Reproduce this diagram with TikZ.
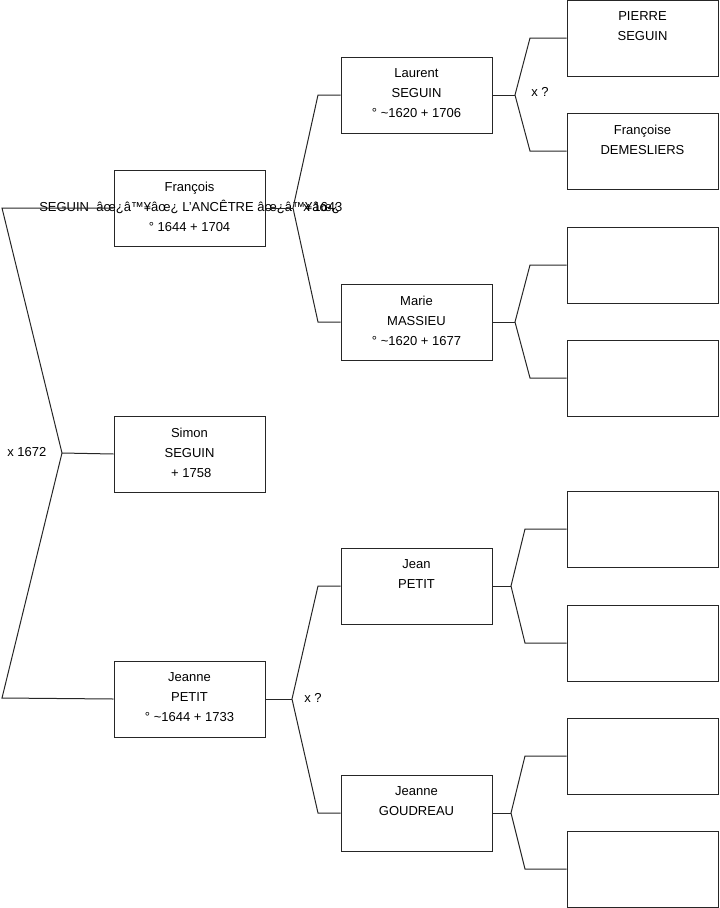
\documentclass[tikz,border=0pt]{standalone}
\usepackage{fontspec}
\setmainfont{Liberation Sans}
\begin{document}
\begin{tikzpicture}[x=0.75pt,y=-0.75pt,
  box/.style={draw=black!85,line width=0.75pt,rectangle,minimum width=113.25pt,minimum height=57pt,inner sep=0pt},
  txt/.style={anchor=north,inner sep=0pt,align=center,font=\fontsize{9.75}{15}\selectfont},
  lbl/.style={anchor=west,inner sep=0pt,font=\fontsize{9.75}{12}\selectfont},
  link/.style={draw=black!85,line width=0.75pt}]
\useasboundingbox (0,0) rectangle (719,908);
% generation 1
\node[box] (fr) at (189.5,208) {};
\node[box] (si) at (189.5,454) {};
\node[box] (je) at (189.5,699) {};
% generation 2
\node[box] (lau) at (416.5,95) {};
\node[box] (mar) at (416.5,322) {};
\node[box] (jea) at (416.5,586) {};
\node[box] (jgo) at (416.5,813) {};
% generation 3
\node[box] (g1) at (642.5,38) {};
\node[box] (g2) at (642.5,151) {};
\node[box] (g3) at (642.5,265) {};
\node[box] (g4) at (642.5,378) {};
\node[box] (g5) at (642.5,529) {};
\node[box] (g6) at (642.5,643) {};
\node[box] (g7) at (642.5,756) {};
\node[box] (g8) at (642.5,869) {};
% texts
\node[txt] (tfr) at ([yshift=-9pt]fr.north) {François\\SEGUIN\ \ âœ¿â™¥âœ¿ L'ANCÊTRE âœ¿â™¥âœ¿\\° 1644 + 1704};
\node[txt] (tsi) at ([yshift=-9pt]si.north) {Simon\\SEGUIN\\\ + 1758};
\node[txt] (tje) at ([yshift=-9pt]je.north) {Jeanne\\PETIT\\° \textasciitilde1644 + 1733};
\node[txt] (tlau) at ([yshift=-9pt]lau.north) {Laurent\\SEGUIN\\° \textasciitilde1620 + 1706};
\node[txt] (tmar) at ([yshift=-9pt]mar.north) {Marie\\MASSIEU\\° \textasciitilde1620 + 1677};
\node[txt] (tjea) at ([yshift=-9pt]jea.north) {Jean\\PETIT};
\node[txt] (tjgo) at ([yshift=-9pt]jgo.north) {Jeanne\\GOUDREAU};
\node[txt] (tg1) at ([yshift=-9pt]g1.north) {PIERRE\\SEGUIN};
\node[txt] (tg2) at ([yshift=-9pt]g2.north) {Françoise\\DEMESLIERS};
% junction coordinates
\coordinate (a1) at (2,208);
\coordinate (a0) at (62,453);
\coordinate (a2) at (2,698);
\coordinate (bf) at (293,208);
\coordinate (bf1) at (318,95);
\coordinate (bf2) at (318,322);
\coordinate (bj) at (292,699);
\coordinate (bj1) at (318,586);
\coordinate (bj2) at (318,813);
\coordinate (cl) at (515,95);
\coordinate (cl1) at (530,38);
\coordinate (cl2) at (530,151);
\coordinate (cm) at (515,322);
\coordinate (cm1) at (530,265);
\coordinate (cm2) at (530,378);
\coordinate (cj) at (511,586);
\coordinate (cj1) at (525,529);
\coordinate (cj2) at (525,643);
\coordinate (cg) at (511,813);
\coordinate (cg1) at (525,756);
\coordinate (cg2) at (525,869);
% connectors
\draw[link] (fr.west) -- (a1) -- (a0) -- (a2) -- (je.west);
\draw[link] (a0) -- (si.west);
\draw[link] (fr.east) -- (bf);
\draw[link] (lau.west) -- (bf1) -- (bf) -- (bf2) -- (mar.west);
\draw[link] (je.east) -- (bj);
\draw[link] (jea.west) -- (bj1) -- (bj) -- (bj2) -- (jgo.west);
\draw[link] (lau.east) -- (cl);
\draw[link] (g1.west) -- (cl1) -- (cl) -- (cl2) -- (g2.west);
\draw[link] (mar.east) -- (cm);
\draw[link] (g3.west) -- (cm1) -- (cm) -- (cm2) -- (g4.west);
\draw[link] (jea.east) -- (cj);
\draw[link] (g5.west) -- (cj1) -- (cj) -- (cj2) -- (g6.west);
\draw[link] (jgo.east) -- (cg);
\draw[link] (g7.west) -- (cg1) -- (cg) -- (cg2) -- (g8.west);
% marriage labels
\node[lbl] (m0) at (7,452) {x 1672};
\node[lbl] (m1) at (303,207) {x 1643};
\node[lbl] (m2) at (304,698) {x ?};
\node[lbl] (m3) at (531,92) {x ?};
\end{tikzpicture}
\end{document}
